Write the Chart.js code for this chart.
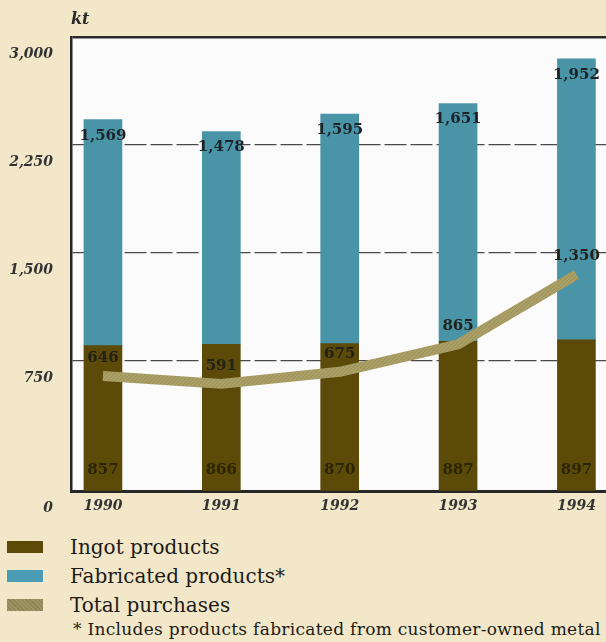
<!DOCTYPE html>
<html>
<head>
<meta charset="utf-8">
<title>Purchases</title>
<script src="https://cdn.jsdelivr.net/npm/chart.js@4/dist/chart.umd.min.js"></script>
<style>
  html, body { margin: 0; padding: 0; background: #f2e7c9; }
  body { width: 606px; height: 642px; overflow: hidden; position: relative; font-family: "DejaVu Serif", serif; }
  #chartBox { position: absolute; left: 0; top: 0; width: 606px; height: 530px; }
  #legend { position: absolute; left: 7px; top: 532px; margin: 0; padding: 0; list-style: none; }
  #legend li { display: flex; align-items: center; height: 29px; font-size: 20px; color: #1c1b17; white-space: nowrap; }
  #legend .sw { display: inline-block; width: 36px; height: 12px; margin-right: 27px; }
  #note { position: absolute; left: 73px; top: 619px; margin: 0; font-size: 17px; letter-spacing: 0.3px; color: #1c1b17; white-space: nowrap; }
</style>
</head>
<body>
<div id="chartBox"><canvas id="chart"></canvas></div>
<ul id="legend"></ul>
<p id="note">* Includes products fabricated from customer-owned metal</p>
<script>
// Thousand tonnes per year
const years = [1990, 1991, 1992, 1993, 1994];
const ingot = [857, 866, 870, 887, 897];
const fabricated = [1569, 1478, 1595, 1651, 1952];
const totalPurchases = [646, 591, 675, 865, 1350];

const yTickValues = [0, 750, 1500, 2250, 3000];
const yTickLabels = ['0', '750', '1,500', '2,250', '3,000'];
const seriesNames = ['Ingot products', 'Fabricated products*', 'Total purchases'];

// axis floor sits a little below zero, where the "0" label is printed
const Y_FLOOR = -153;
const Y_CEIL = 3000;

const INGOT_COLOR = '#5b4a08';
const FAB_COLOR = '#4a94a8';

// hatched khaki stroke for the purchases line
function hatch(base, stripe) {
  const c = document.createElement('canvas');
  c.width = 4; c.height = 4;
  const g = c.getContext('2d');
  g.fillStyle = base; g.fillRect(0, 0, 4, 4);
  g.strokeStyle = stripe; g.lineWidth = 1;
  g.beginPath(); g.moveTo(0, 4); g.lineTo(4, 0); g.stroke();
  return g.createPattern(c, 'repeat');
}
const LINE_FILL = hatch('#aaa067', '#9c9258');

const fmt = v => v.toLocaleString('en-US');
const pts = vals => years.map((x, i) => ({ x, y: vals[i] }));

const plotBackground = {
  id: 'plotBackground',
  beforeDraw(chart) {
    const { ctx, chartArea: a } = chart;
    ctx.save();
    ctx.fillStyle = '#fbfbfb';
    ctx.fillRect(a.left, a.top, a.right - a.left, a.bottom - a.top);
    ctx.restore();
  }
};

const unitLabel = {
  id: 'unitLabel',
  afterDraw(chart) {
    const { ctx, chartArea: a } = chart;
    ctx.save();
    ctx.font = 'italic bold 16px "DejaVu Serif"';
    ctx.fillStyle = '#2a2a2a';
    ctx.textAlign = 'left';
    ctx.textBaseline = 'middle';
    ctx.fillText('kt', a.left, a.top - 17);
    ctx.restore();
  }
};

const valueLabels = {
  id: 'valueLabels',
  afterDatasetsDraw(chart) {
    const { ctx, chartArea: a } = chart;
    ctx.save();
    ctx.font = 'bold 15px "DejaVu Serif"';
    ctx.textAlign = 'center';
    ctx.textBaseline = 'middle';
    chart.getDatasetMeta(1).data.forEach((bar, i) => {
      ctx.fillStyle = '#2c2505';
      ctx.fillText(fmt(ingot[i]), bar.x, a.bottom - 21);
    });
    chart.getDatasetMeta(2).data.forEach((bar, i) => {
      ctx.fillStyle = '#1d2326';
      ctx.fillText(fmt(fabricated[i]), bar.x, bar.y + 16);
    });
    chart.getDatasetMeta(0).data.forEach((pt, i) => {
      ctx.fillStyle = '#24211a';
      ctx.fillText(fmt(totalPurchases[i]), pt.x, pt.y - 18);
    });
    ctx.restore();
  }
};

const tickFont = { family: '"DejaVu Serif"', style: 'italic', weight: 'bold', size: 14 };

const chart = new Chart(document.getElementById('chart'), {
  data: {
    datasets: [
      {
        type: 'line',
        label: seriesNames[2],
        data: pts(totalPurchases),
        stack: 'purchases',
        borderColor: LINE_FILL,
        borderWidth: 10,
        borderCapStyle: 'butt',
        borderJoinStyle: 'bevel',
        pointRadius: 0,
        tension: 0,
        fill: false,
        order: 0
      },
      {
        type: 'bar',
        label: seriesNames[0],
        data: pts(ingot),
        backgroundColor: INGOT_COLOR,
        barThickness: 38,
        base: Y_FLOOR,
        order: 1
      },
      {
        type: 'bar',
        label: seriesNames[1],
        data: pts(fabricated),
        backgroundColor: FAB_COLOR,
        barThickness: 38,
        order: 1
      }
    ]
  },
  options: {
    responsive: true,
    maintainAspectRatio: false,
    animation: false,
    layout: { padding: { top: 37, left: 0, right: 0, bottom: 0 } },
    plugins: { legend: { display: false }, tooltip: { enabled: false } },
    scales: {
      x: {
        type: 'linear',
        min: 1989.73,
        max: 1994.25,
        offset: false,
        stacked: true,
        grid: { display: false, drawTicks: false, offset: false },
        border: { display: true, color: '#262626', width: 3 },
        afterBuildTicks: s => { s.ticks = years.map(v => ({ value: v })); },
        afterFit: s => { s.height = 39; },
        ticks: {
          callback: (v, i) => String(years[i]),
          font: tickFont,
          color: '#333333',
          padding: 7,
          maxRotation: 0,
          autoSkip: false
        }
      },
      y: {
        stacked: true,
        min: Y_FLOOR,
        max: Y_CEIL,
        afterBuildTicks: s => { s.ticks = yTickValues.map(v => ({ value: v === 0 ? s.min : v })); },
        afterFit: s => { s.width = 71; },
        ticks: {
          callback: (v, i) => yTickLabels[i],
          font: tickFont,
          color: '#333333',
          padding: 18,
          labelOffset: 17
        },
        grid: {
          drawTicks: false,
          color: c => c.tick && c.tick.value === Y_CEIL ? '#2a2a2a'
                   : (c.tick && c.tick.value > 0 ? '#4a4a4a' : 'rgba(0,0,0,0)'),
          lineWidth: c => c.tick && c.tick.value === Y_CEIL ? 2.5 : 1.2
        },
        border: {
          display: true,
          color: '#262626',
          width: 2.5,
          dash: c => c.tick && c.tick.value === Y_CEIL ? [] : [22, 4]
        }
      }
    }
  },
  plugins: [plotBackground, valueLabels, unitLabel]
});

// legend rows built from the chart's own series
const swatches = [INGOT_COLOR, '#4b9bb6',
  'repeating-linear-gradient(45deg, #8a8354 0 1px, #9b9462 1px 3px)'];
const legendEl = document.getElementById('legend');
[1, 2, 0].forEach((di, row) => {
  const li = document.createElement('li');
  const sw = document.createElement('span');
  sw.className = 'sw';
  sw.style.background = swatches[row];
  li.appendChild(sw);
  li.appendChild(document.createTextNode(chart.data.datasets[di].label));
  legendEl.appendChild(li);
});
</script>
</body>
</html>
